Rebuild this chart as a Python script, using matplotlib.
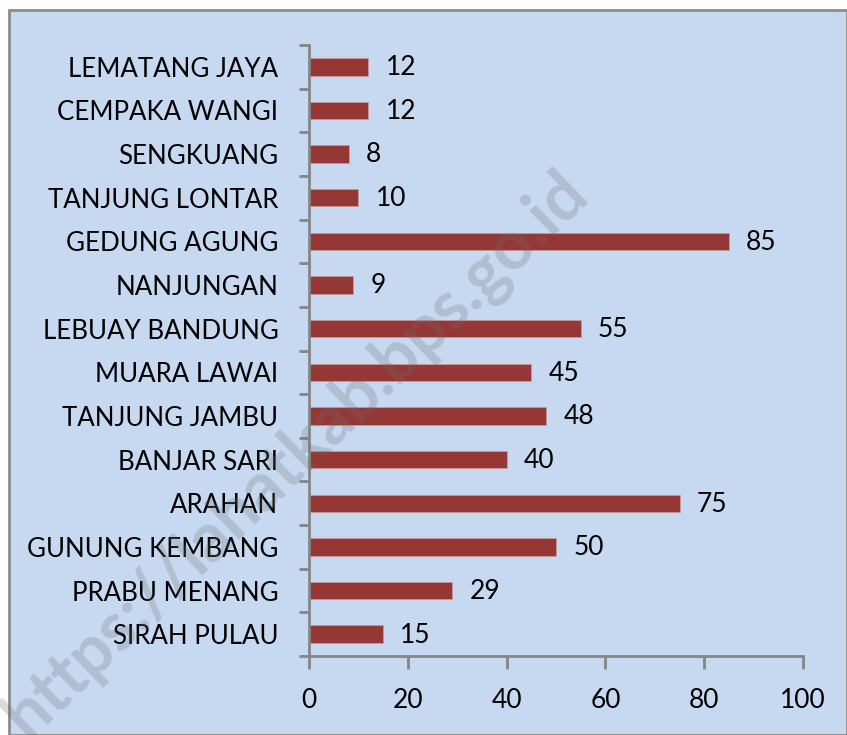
import matplotlib
matplotlib.use("Agg")
import matplotlib.pyplot as plt
from matplotlib.patches import Rectangle
import numpy as np

categories = ["SIRAH PULAU", "PRABU MENANG", "GUNUNG KEMBANG", "ARAHAN", "BANJAR SARI",
              "TANJUNG JAMBU", "MUARA LAWAI", "LEBUAY BANDUNG", "NANJUNGAN", "GEDUNG AGUNG",
              "TANJUNG LONTAR", "SENGKUANG", "CEMPAKA WANGI", "LEMATANG JAYA"]
values = [15, 29, 50, 75, 40, 48, 45, 55, 9, 85, 10, 8, 12, 12]
xticks = [0, 20, 40, 60, 80, 100]

plt.rcParams['font.family'] = ['Lato', 'DejaVu Sans']

W, H = 847, 735
fig = plt.figure(figsize=(W/100, H/100), dpi=100)
fig.patch.set_facecolor('white')
bg = '#C6D9F1'
# background panel with border
fig.patches.append(Rectangle((8.5/W, 0), 1 - 8.5/W, 1 - 9.5/H, transform=fig.transFigure,
                             facecolor=bg, edgecolor='#8C8C8C', linewidth=2.0, zorder=-10))

ax = fig.add_axes([309/W, 1 - 656/H, (803-309)/W, (656-45)/H])
ax.set_zorder(1)
ax.set_facecolor('none')
y = np.arange(len(categories))
bars = ax.barh(y, values, height=0.4, color='#953735', edgecolor='#C49A9A', linewidth=0.6, zorder=2)
for yi, v in zip(y, values):
    ax.text(v + 3.5, yi - 0.02, str(v), va='center', ha='left', fontsize=19, color='black')

ax.set_xlim(0, 100)
ax.set_ylim(-0.5, len(categories) - 0.5)
ax.set_xticks(xticks)
ax.set_xticklabels([str(t) for t in xticks], fontsize=19)
ax.set_yticks(np.arange(-0.5, len(categories), 1.0))
ax.set_yticklabels([])
ax.set_yticks(y, minor=True)
ax.set_yticklabels(categories, minor=True, fontsize=18.6)
ax.tick_params(axis='y', which='minor', length=0, pad=22)
ax.tick_params(axis='y', which='major', length=7, width=2, color='#868686', direction='out')
ax.tick_params(axis='x', length=9, width=2, color='#868686', direction='out', pad=14)
for s in ['top', 'right']:
    ax.spines[s].set_visible(False)
for s in ['left', 'bottom']:
    ax.spines[s].set_color('#868686')
    ax.spines[s].set_linewidth(2)

wm = fig.text(297/W, 1 - 455/H, "https://lahatkab.bps.go.id", rotation=44, fontsize=49,
              fontweight='bold', color='#6E6E6E', alpha=0.25, ha='center', va='center',
              rotation_mode='anchor', zorder=10)

fig.savefig("out.png", dpi=100, facecolor=fig.get_facecolor())
